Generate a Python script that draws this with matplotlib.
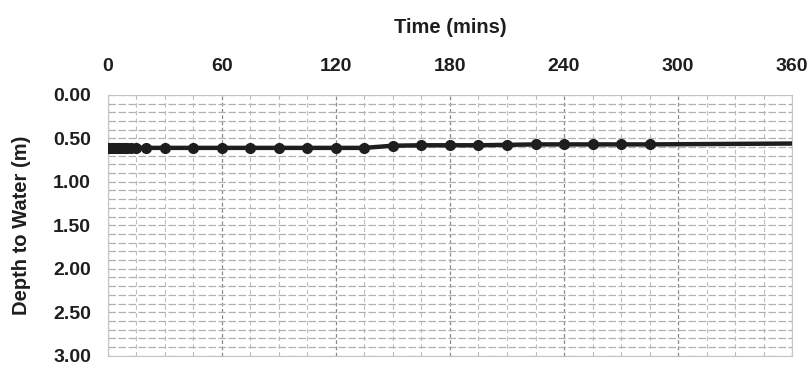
import numpy as np
import matplotlib.pyplot as plt
from matplotlib.ticker import MultipleLocator

plt.rcParams.update({
    "font.family": ["Liberation Sans", "DejaVu Sans"],
    "font.weight": "bold",
})

# Measured times (mins) and depth to water (m); the last point only carries the line on
times = [0, 1, 2, 3, 4, 5, 6, 7, 8, 9, 10, 12, 15, 20, 30, 45, 60, 75, 90, 105,
         120, 135, 150, 165, 180, 195, 210, 225, 240, 255, 270, 285, 360]
depths = [0.61, 0.61, 0.61, 0.61, 0.61, 0.61, 0.61, 0.61, 0.61, 0.61, 0.61, 0.61,
          0.61, 0.61, 0.61, 0.61, 0.61, 0.61, 0.61, 0.61, 0.61, 0.61, 0.585, 0.58,
          0.58, 0.58, 0.575, 0.57, 0.57, 0.57, 0.57, 0.57, 0.56]
x_ticks = [0, 60, 120, 180, 240, 300, 360]
y_ticks = [0.0, 0.5, 1.0, 1.5, 2.0, 2.5, 3.0]

fig = plt.figure(figsize=(8.1, 3.69), dpi=100)
ax = fig.add_axes([0.133, 0.036, 0.845, 0.707])

ax.plot(times, depths, color='#1e1e1e', lw=3.2, marker='o', markersize=7,
        markevery=list(range(len(times) - 1)), zorder=3)

ax.set_xlim(0, 360)
ax.set_ylim(3.0, 0.0)
ax.xaxis.set_label_position('top')
ax.xaxis.tick_top()
ax.set_xticks(x_ticks)
ax.set_yticks(y_ticks)
ax.set_yticklabels([f"{v:.2f}" for v in y_ticks])
ax.xaxis.set_minor_locator(MultipleLocator(15))
ax.yaxis.set_minor_locator(MultipleLocator(0.1))
ax.tick_params(which='both', length=0, labelsize=14, colors='#1e1e1e')
ax.tick_params(axis='x', pad=14)
ax.tick_params(axis='y', pad=12)

# faint scanned-looking grid
ax.grid(which='major', axis='x', color='#8a8a8a', lw=0.9, ls=(0, (3, 2)))
ax.grid(which='minor', axis='x', color='#bdbdbd', lw=0.8, ls=(0, (4, 3)))
ax.grid(which='both', axis='y', color='#b0b0b0', lw=0.9, ls=(0, (6, 2)))
ax.set_axisbelow(True)
for s in ax.spines.values():
    s.set_color('#c4c4c4')
    s.set_linewidth(0.8)

ax.set_xlabel('Time (mins)', fontsize=14.5, fontweight='bold', labelpad=18, color='#1e1e1e')
ax.set_ylabel('Depth to Water (m)', fontsize=14.5, fontweight='bold', labelpad=16, color='#1e1e1e')

fig.savefig('out.png', dpi=100)
